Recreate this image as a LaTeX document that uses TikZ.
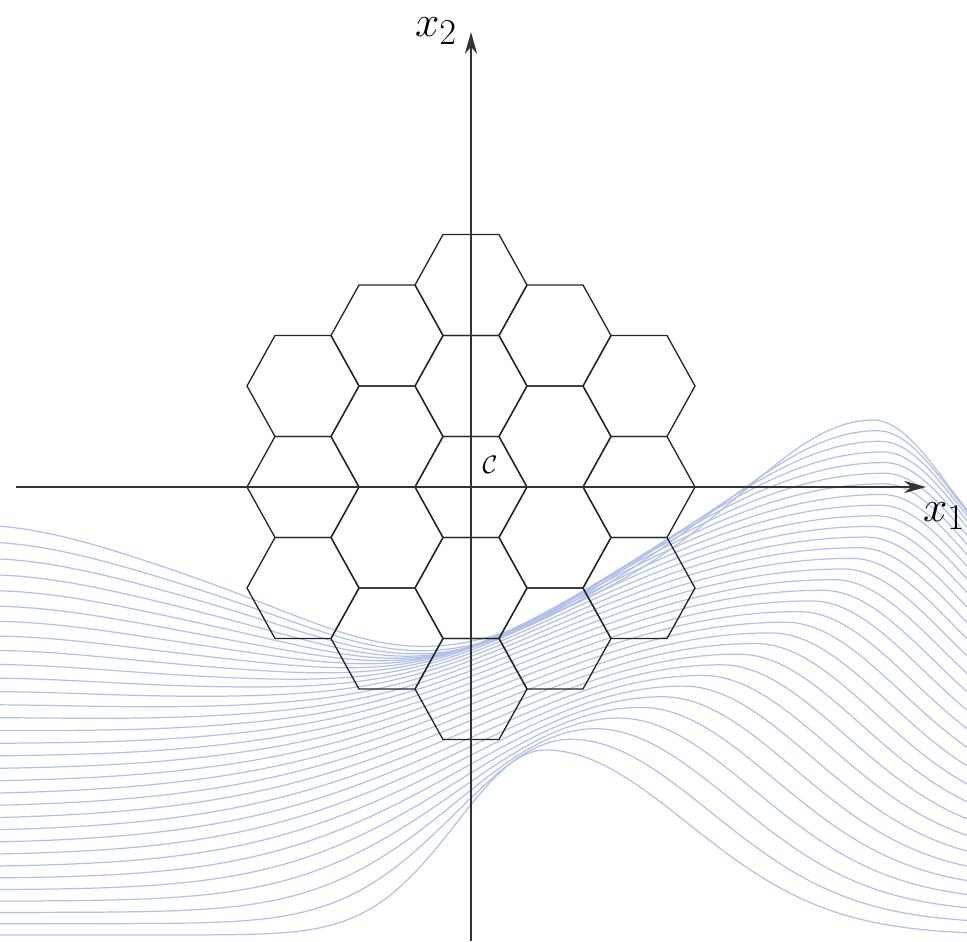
\documentclass[tikz,border=0pt]{standalone}
\usetikzlibrary{arrows.meta}
\definecolor{ribbonblue}{RGB}{178,193,233}

% one flat-topped cell of the lattice, centred at (#1,#2)
\newcommand{\hexcell}[2]{%
  \draw[cell] ({#1},{#2}) +(-56,0) -- +(-28,-50.5) -- +(28,-50.5) -- +(56,0)
    -- +(28,50.5) -- +(-28,50.5) -- cycle;}

\begin{document}
\begin{tikzpicture}[
  x=0.02cm,y=-0.02cm,
  >={Stealth[length=12.5pt,width=7pt]},
  cell/.style={draw=black!85,line width=0.75pt},
  axis/.style={->,draw=black!80,line width=0.85pt},
  ribbon/.style={draw=ribbonblue,line width=0.7pt},
  lab/.style={inner sep=0pt,anchor=base,font=\Huge},
  declare function={
    crestx(\s)=873+150*\s-478*\s*\s;
    cresty(\s)=420+330*\s;
    hgt(\s)=165+20*\s;
    wl(\s)=175-50*\s+1100*\s*(1-\s);
    wr(\s)=106+95*\s;
    bw(\u,\s)=(\u<0 ? wl(\s) : wr(\s));
    wdrop(\u,\s)=hgt(\s)*(1-exp(-min((\u/bw(\u,\s))*(\u/bw(\u,\s)),30)));
    wdip(\u)=62*exp(-min(((\u+450)/170)*((\u+450)/170),30))
             -60*exp(-min(((\u+900)/200)*((\u+900)/200),30));
    wy(\p,\s)=cresty(\s)+wdrop(\p-crestx(\s),\s)
              +(1-\s)*(1-\s)*(1-\s)*wdip(\p-crestx(\s));
  },
]
\useasboundingbox (0,0) rectangle (967,941);
% ---- the family of curves ----
\begin{scope}
  \clip (0,0) rectangle (967,941);
  \foreach \k in {0,...,31}
    \draw[ribbon] plot[domain=-10:977,samples=100,smooth] (\x,{wy(\x,\k/31)});
\end{scope}
% ---- cells: columns of 3,4,5,4,3 ----
\foreach \q/\n in {-2/3,-1/4,0/5,1/4,2/3}
  \foreach \j in {1,...,\n}
    \hexcell{471+84*\q}{487+101*(\j-(\n+1)/2)};
% ---- axes ----
\coordinate (o)      at (471,487);
\coordinate (xstart) at (16,487);
\coordinate (xend)   at (926,487);
\coordinate (ystart) at (471,941);
\coordinate (yend)   at (471,32);
\draw[axis] (xstart) -- (xend);
\draw[axis] (ystart) -- (yend);
\node[lab] (xonelab) at (944,521) {$x_1$};
\node[lab] (xtwolab) at (436,36)  {$x_2$};
\node[lab,anchor=center,font=\Large] (cset) at (490,465) {$\mathcal{C}$};
\end{tikzpicture}
\end{document}
